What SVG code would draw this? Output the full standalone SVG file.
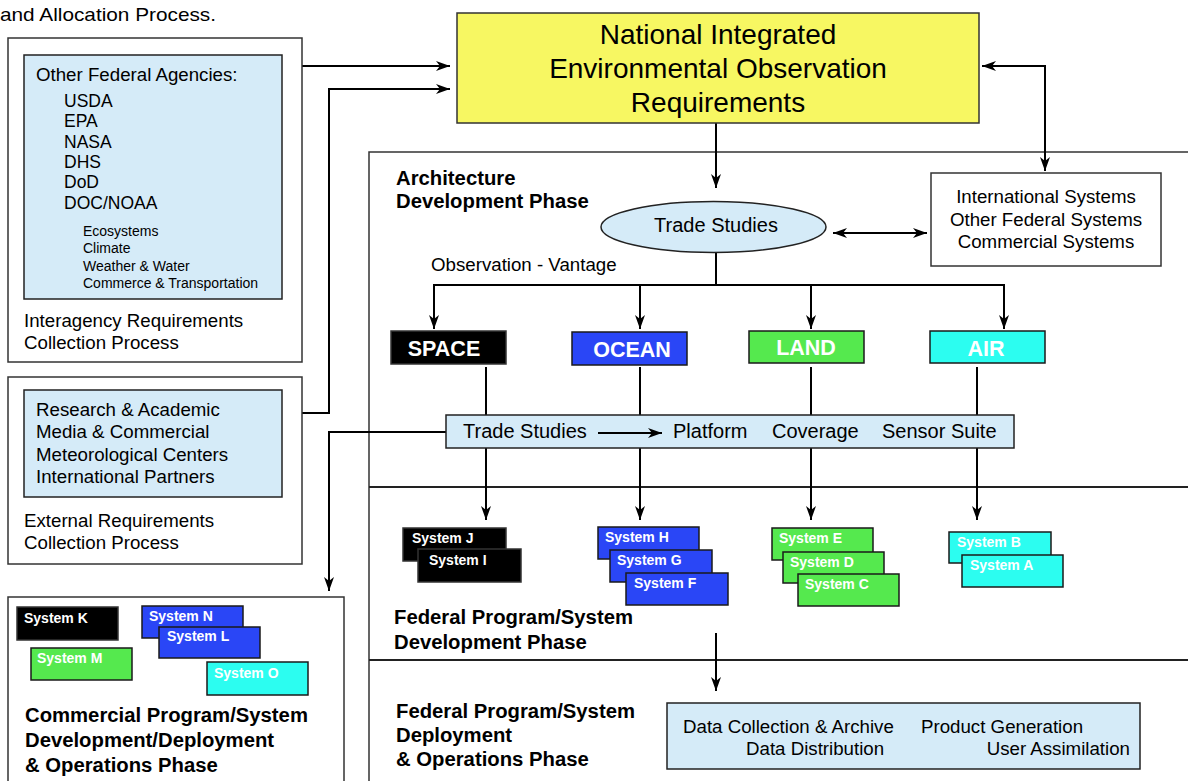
<svg xmlns="http://www.w3.org/2000/svg" width="1188" height="781" viewBox="0 0 1188 781">
  <defs>
    <marker id="arrow" viewBox="0 0 14 10" refX="14" refY="5" markerWidth="14" markerHeight="10" markerUnits="userSpaceOnUse" orient="auto-start-reverse">
      <path d="M0,0 L14,5 L0,10 L4,5 z" fill="#000"/>
    </marker>
  </defs>
  <style>
    text { font-family: "Liberation Sans", Arial, Helvetica, sans-serif; fill: #000; }
    .body { font-size: 18.7px; }
    .agency { font-size: 17.5px; }
    .small { font-size: 14px; }
    .title { font-size: 28px; }
    .bar { font-size: 20px; }
    .head { font-size: 20.3px; font-weight: bold; }
    .vant { font-size: 21.5px; font-weight: bold; fill: #fff; }
    .sys { font-size: 14px; font-weight: bold; fill: #fff; }
    .frame { fill: #fff; stroke: #333; stroke-width: 1.5; }
    .lite { fill: #d5ebf8; stroke: #222; stroke-width: 1.5; }
    .phase { fill: none; stroke: #222; stroke-width: 2; }
    .conn { fill: none; stroke: #000; stroke-width: 2; }
    .arr { marker-end: url(#arrow); }
    .both { marker-start: url(#arrow); marker-end: url(#arrow); }
    .k { fill: #000; stroke: #333; stroke-width: 1.5; }
    .b { fill: #2a46f6; stroke: #1a1a1a; stroke-width: 1.5; }
    .g { fill: #55e94e; stroke: #1a1a1a; stroke-width: 1.5; }
    .c { fill: #2cfdf0; stroke: #1a1a1a; stroke-width: 1.5; }
  </style>

  <rect width="1188" height="781" fill="#fff"/>

  <text x="0" y="21" style="font-size:19px" textLength="216" lengthAdjust="spacingAndGlyphs">and Allocation Process.</text>

  <!-- phase frame and dividers -->
  <g id="phase-frame">
    <path d="M1188,152 H369 V781" fill="none" stroke="#333" stroke-width="1.5"/>
    <line class="phase" x1="369" y1="487" x2="1188" y2="487"/>
    <line class="phase" x1="369" y1="660" x2="1188" y2="660"/>
    <text class="head" x="396" y="185">Architecture</text>
    <text class="head" x="396" y="208">Development Phase</text>
    <text class="head" x="394" y="624">Federal Program/System</text>
    <text class="head" x="394" y="649">Development Phase</text>
    <text class="head" x="396" y="718">Federal Program/System</text>
    <text class="head" x="396" y="742">Deployment</text>
    <text class="head" x="396" y="766">&amp; Operations Phase</text>
  </g>

  <!-- connectors -->
  <g id="connectors">
    <line class="conn arr" x1="302" y1="66" x2="450" y2="66"/>
    <polyline class="conn arr" points="302,413 329,413 329,89 450,89"/>
    <line class="conn arr" x1="716" y1="123" x2="716" y2="188"/>
    <polyline class="conn both" points="982,66 1045,66 1045,171"/>
    <line class="conn both" x1="833" y1="233" x2="927" y2="233"/>
    <line class="conn" x1="716" y1="253" x2="716" y2="285"/>
    <line class="conn" x1="433" y1="285" x2="1005" y2="285"/>
    <line class="conn arr" x1="434" y1="285" x2="434" y2="329"/>
    <line class="conn arr" x1="640" y1="285" x2="640" y2="329"/>
    <line class="conn arr" x1="811" y1="285" x2="811" y2="329"/>
    <line class="conn arr" x1="1004" y1="285" x2="1004" y2="329"/>
    <line class="conn" x1="486" y1="367" x2="486" y2="415"/>
    <line class="conn" x1="640" y1="367" x2="640" y2="415"/>
    <line class="conn" x1="811" y1="367" x2="811" y2="415"/>
    <line class="conn" x1="977" y1="367" x2="977" y2="415"/>
    <line class="conn arr" x1="486" y1="448" x2="486" y2="520"/>
    <line class="conn arr" x1="640" y1="448" x2="640" y2="520"/>
    <line class="conn arr" x1="811" y1="448" x2="811" y2="520"/>
    <line class="conn arr" x1="977" y1="448" x2="977" y2="520"/>
    <polyline class="conn arr" points="446,432 329,432 329,591"/>
    <line class="conn arr" x1="716" y1="633" x2="716" y2="691"/>
  </g>

  <!-- interagency requirements -->
  <g id="interagency">
    <rect class="frame" x="8" y="38" width="294" height="324"/>
    <rect class="lite" x="24" y="55" width="258" height="244"/>
    <text class="body" x="36" y="81">Other Federal Agencies:</text>
    <text class="agency" x="64" y="107">USDA</text>
    <text class="agency" x="64" y="127">EPA</text>
    <text class="agency" x="64" y="148">NASA</text>
    <text class="agency" x="64" y="168">DHS</text>
    <text class="agency" x="64" y="188">DoD</text>
    <text class="agency" x="64" y="209">DOC/NOAA</text>
    <text class="small" x="83" y="236">Ecosystems</text>
    <text class="small" x="83" y="253">Climate</text>
    <text class="small" x="83" y="271">Weather &amp; Water</text>
    <text class="small" x="83" y="288">Commerce &amp; Transportation</text>
    <text class="body" x="24" y="327">Interagency Requirements</text>
    <text class="body" x="24" y="349">Collection Process</text>
  </g>

  <!-- external requirements -->
  <g id="external">
    <rect class="frame" x="8" y="377" width="294" height="187"/>
    <rect class="lite" x="24" y="390" width="258" height="107"/>
    <text class="body" x="36" y="416">Research &amp; Academic</text>
    <text class="body" x="36" y="438">Media &amp; Commercial</text>
    <text class="body" x="36" y="461">Meteorological Centers</text>
    <text class="body" x="36" y="483">International Partners</text>
    <text class="body" x="24" y="527">External Requirements</text>
    <text class="body" x="24" y="549">Collection Process</text>
  </g>

  <!-- national requirements -->
  <g id="national-requirements">
    <rect x="457" y="13" width="522" height="110" fill="#f7f762" stroke="#333" stroke-width="1.5"/>
    <text class="title" x="718" y="44" text-anchor="middle">National Integrated</text>
    <text class="title" x="718" y="78" text-anchor="middle">Environmental Observation</text>
    <text class="title" x="718" y="112" text-anchor="middle">Requirements</text>
  </g>

  <!-- other systems -->
  <g id="other-systems">
    <rect class="frame" x="931" y="173" width="230" height="93" stroke-width="2"/>
    <text class="body" x="1046" y="203" text-anchor="middle">International Systems</text>
    <text class="body" x="1046" y="226" text-anchor="middle">Other Federal Systems</text>
    <text class="body" x="1046" y="248" text-anchor="middle">Commercial Systems</text>
  </g>

  <!-- architecture trade studies -->
  <g id="trade-studies">
    <ellipse cx="713.5" cy="227" rx="112.5" ry="25.5" fill="#d5ebf8" stroke="#222" stroke-width="1.5"/>
    <text class="bar" x="716" y="232" text-anchor="middle">Trade Studies</text>
  </g>

  <text class="body" x="431" y="271">Observation - Vantage</text>

  <!-- vantage points -->
  <g id="space">
    <rect class="k" x="391" y="331" width="115" height="33"/>
    <text class="vant" x="444" y="356" text-anchor="middle">SPACE</text>
  </g>
  <g id="ocean">
    <rect class="b" x="572" y="332" width="115" height="33"/>
    <text class="vant" x="632" y="357" text-anchor="middle">OCEAN</text>
  </g>
  <g id="land">
    <rect class="g" x="749" y="331" width="115" height="32"/>
    <text class="vant" x="806" y="355" text-anchor="middle">LAND</text>
  </g>
  <g id="air">
    <rect class="c" x="930" y="331" width="115" height="32"/>
    <text class="vant" x="986" y="356" text-anchor="middle">AIR</text>
  </g>

  <!-- platform trade studies -->
  <g id="platform-trades">
    <rect class="lite" x="446" y="415" width="568" height="33"/>
    <text class="bar" x="463" y="438">Trade Studies</text>
    <line class="conn arr" x1="598" y1="433" x2="662" y2="433"/>
    <text class="bar" x="673" y="438">Platform</text>
    <text class="bar" x="772" y="438">Coverage</text>
    <text class="bar" x="882" y="438">Sensor Suite</text>
  </g>

  <!-- federal systems -->
  <g id="space-systems">
    <rect class="k" x="403" y="528" width="103" height="33"/>
    <text class="sys" x="412" y="543">System J</text>
    <rect class="k" x="418" y="549" width="103" height="33"/>
    <text class="sys" x="429" y="565">System I</text>
  </g>
  <g id="ocean-systems">
    <rect class="b" x="598" y="527" width="101" height="32"/>
    <text class="sys" x="605" y="542">System H</text>
    <rect class="b" x="610" y="550" width="102" height="32"/>
    <text class="sys" x="617" y="565">System G</text>
    <rect class="b" x="626" y="573" width="102" height="32"/>
    <text class="sys" x="634" y="588">System F</text>
  </g>
  <g id="land-systems">
    <rect class="g" x="772" y="528" width="101" height="32"/>
    <text class="sys" x="779" y="543">System E</text>
    <rect class="g" x="783" y="552" width="101" height="31"/>
    <text class="sys" x="790" y="567">System D</text>
    <rect class="g" x="798" y="574" width="101" height="32"/>
    <text class="sys" x="805" y="589">System C</text>
  </g>
  <g id="air-systems">
    <rect class="c" x="949" y="532" width="102" height="31"/>
    <text class="sys" x="957" y="547">System B</text>
    <rect class="c" x="962" y="555" width="101" height="32"/>
    <text class="sys" x="970" y="570">System A</text>
  </g>

  <!-- deployment and operations -->
  <g id="operations">
    <rect class="lite" x="667" y="703" width="473" height="66"/>
    <text class="body" x="683" y="733">Data Collection &amp; Archive</text>
    <text class="body" x="921" y="733">Product Generation</text>
    <text class="body" x="746" y="755">Data Distribution</text>
    <text class="body" x="1130" y="755" text-anchor="end">User Assimilation</text>
  </g>

  <!-- commercial programs -->
  <g id="commercial">
    <rect class="frame" x="8" y="597" width="336" height="190"/>
    <rect class="k" x="17" y="607" width="101" height="33"/>
    <text class="sys" x="24" y="623">System K</text>
    <rect class="b" x="142" y="606" width="101" height="32"/>
    <text class="sys" x="149" y="621">System N</text>
    <rect class="b" x="159" y="627" width="101" height="31"/>
    <text class="sys" x="167" y="641">System L</text>
    <rect class="g" x="31" y="648" width="101" height="32"/>
    <text class="sys" x="37" y="663">System M</text>
    <rect class="c" x="207" y="662" width="101" height="33"/>
    <text class="sys" x="214" y="678">System O</text>
    <text class="head" x="25" y="722">Commercial Program/System</text>
    <text class="head" x="25" y="747">Development/Deployment</text>
    <text class="head" x="25" y="772">&amp; Operations Phase</text>
  </g>
</svg>
